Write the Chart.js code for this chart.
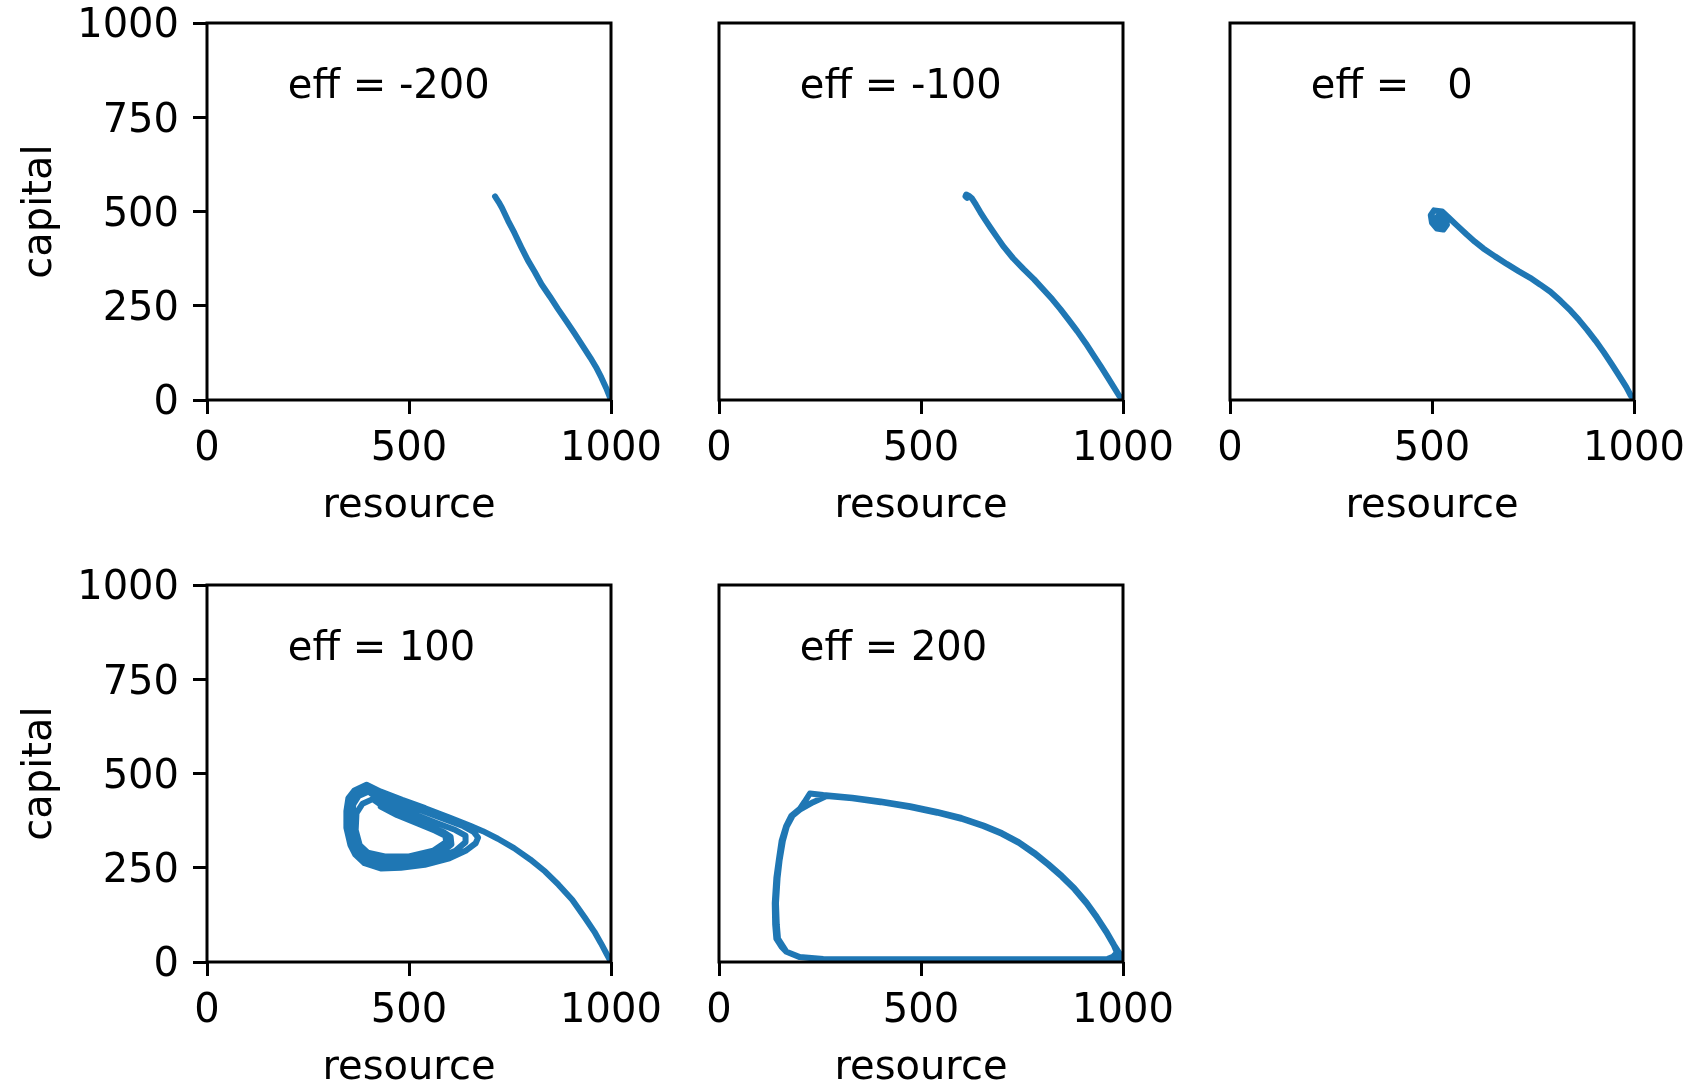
<!DOCTYPE html>
<html><head><meta charset="utf-8">
<script src="https://cdn.jsdelivr.net/npm/chart.js@4"></script>
<style>
html,body{margin:0;padding:0;background:#fff;width:1698px;height:1084px;overflow:hidden;position:relative}
canvas{position:absolute;display:block}
</style></head><body>
<canvas id="c0" width="680" height="530" style="left:0px;top:0px"></canvas>
<canvas id="c1" width="680" height="530" style="left:512px;top:0px"></canvas>
<canvas id="c2" width="680" height="530" style="left:1023px;top:0px"></canvas>
<canvas id="c3" width="680" height="530" style="left:0px;top:562px"></canvas>
<canvas id="c4" width="680" height="530" style="left:512px;top:562px"></canvas>
<script>
// ---- data ----
const effLabels = ['eff = -200', 'eff = -100', 'eff =   0', 'eff = 100', 'eff = 200'];
const xTicks = [0, 500, 1000];
const xTickLabels = ['0', '500', '1000'];
const yTicks = [0, 250, 500, 750, 1000];
const yTickLabels = ['0', '250', '500', '750', '1000'];
const xTitle = 'resource';
const yTitle = 'capital';

const res_m200 = [1000, 988, 976, 963, 949, 929, 909, 889, 869, 849, 828, 811, 794, 778, 761, 745, 730, 722, 716, 713];
const cap_m200 = [0, 32, 60, 87, 112, 145, 178, 210, 241, 274, 307, 340, 371, 405, 443, 476, 510, 525, 535, 540];

const res_m100 = [1000, 990, 976, 961, 945, 928, 908, 887, 866, 845, 825, 804, 780, 754, 728, 705, 688, 672, 659, 647, 636, 626, 618, 612, 610, 614];
const cap_m100 = [0, 12, 36, 62, 89, 117, 150, 182, 212, 241, 267, 292, 320, 347, 376, 406, 432, 457, 478, 498, 518, 535, 542, 545, 540, 536];

const res_0 = [1000, 992, 981, 967, 946, 925, 905, 884, 864, 843, 818, 793, 768, 743, 714, 685, 656, 627, 606, 586, 563, 541, 525, 505, 497, 500, 512, 528, 537, 533, 518, 506, 508, 520, 527, 518, 513];
const cap_0 = [0, 12, 34, 58, 93, 127, 157, 186, 212, 237, 263, 287, 306, 324, 342, 361, 381, 402, 420, 439, 462, 484, 500, 503, 490, 470, 455, 452, 465, 482, 490, 480, 466, 462, 472, 478, 472];

const res_100 = [1000, 990, 975, 959, 935, 904, 870, 837, 800, 760, 720, 683, 650,
  600, 540, 483, 430, 395, 365, 350, 345, 345, 355, 367, 390, 430, 480, 539, 600, 640, 665, 671, 660, 635,
  590, 530, 470, 420, 398, 370, 356, 352, 354, 364, 380, 405, 445, 510, 570, 615, 640, 640, 615,
  570, 510, 455, 415, 400, 375, 362, 360, 362, 372, 390, 420, 470, 530, 580, 605, 603, 585,
  545, 490, 440, 410, 385, 370, 368, 378, 398, 440, 500, 560, 592, 590, 565, 520, 470, 430];
const cap_100 = [0, 20, 50, 80, 118, 165, 205, 240, 272, 302, 327, 347, 362,
  383, 408, 430, 452, 470, 455, 435, 400, 356, 310, 285, 262, 248, 250, 258, 275, 295, 315, 330, 345, 360,
  378, 402, 425, 447, 462, 448, 428, 390, 350, 305, 282, 265, 257, 262, 275, 295, 318, 335, 350,
  368, 393, 417, 440, 452, 440, 418, 380, 340, 302, 283, 270, 266, 272, 290, 312, 332, 345,
  362, 386, 410, 432, 420, 395, 350, 310, 290, 280, 280, 295, 318, 335, 348, 368, 390, 412];

const res_200 = [1000, 990, 978, 958, 935, 910, 880, 849, 815, 780, 742, 700, 655, 600, 540, 473, 400, 330, 258, 225,
  212, 200, 179, 166, 155, 148, 142, 138, 139, 142, 155, 167, 200, 258, 400, 600, 800, 900, 961, 975, 985,
  978, 958, 935, 910, 880, 849, 815, 780, 742, 700, 655, 600, 540, 473, 400, 330, 266,
  233, 200, 182, 168, 158, 150, 145, 141, 143, 146, 167, 200, 258, 400, 600, 800, 960, 990, 1000];
const cap_200 = [6, 25, 45, 82, 120, 157, 195, 228, 260, 290, 318, 342, 362, 382, 398, 413, 426, 436, 443, 447,
  425, 406, 388, 360, 321, 270, 223, 156, 100, 62, 40, 27, 13, 7, 6, 6, 6, 6, 8, 14, 25,
  43, 80, 118, 155, 193, 226, 258, 288, 316, 340, 360, 380, 396, 411, 424, 434, 440,
  424, 404, 388, 360, 321, 270, 223, 156, 100, 62, 27, 13, 8, 7, 7, 7, 8, 10, 20];

const annotX = 200, annotY = 800;

// ---- drawing ----
const FONT = 'DejaVu Sans';
const boxPlugin = {
  id: 'box',
  afterDraw(chart) {
    const a = chart.chartArea, ctx = chart.ctx;
    ctx.save();
    ctx.strokeStyle = '#000';
    ctx.lineWidth = 3;
    ctx.strokeRect(a.left, a.top, a.right - a.left, a.bottom - a.top);
    const o = chart.options.plugins.annot;
    ctx.font = '40px "' + FONT + '"';
    ctx.fillStyle = '#000';
    ctx.textAlign = 'left';
    ctx.textBaseline = 'alphabetic';
    ctx.fillText(o.text, chart.scales.x.getPixelForValue(annotX), chart.scales.y.getPixelForValue(annotY));
    ctx.restore();
  }
};

function makeChart(id, res, cap, label, showY) {
  const pts = res.map((r, i) => ({x: r, y: cap[i]}));
  const tickFont = {family: FONT, size: 40, lineHeight: 1};
  new Chart(document.getElementById(id), {
    type: 'scatter',
    data: {datasets: [{data: pts, showLine: true, borderColor: '#1f77b4', backgroundColor: '#1f77b4',
      borderWidth: 6, pointRadius: 0, pointHoverRadius: 0, tension: 0, borderJoinStyle: 'round', borderCapStyle: 'round'}]},
    options: {
      responsive: false, animation: false, devicePixelRatio: 1, events: [],
      layout: {padding: {top: 23, right: 69, left: 0, bottom: 0}},
      plugins: {legend: {display: false}, tooltip: {enabled: false}, annot: {text: label}},
      scales: {
        x: {
          type: 'linear', min: 0, max: 1000, position: 'bottom',
          afterBuildTicks: s => { s.ticks = xTicks.map(v => ({value: v})); },
          afterFit: s => { s.height = 130; s.paddingLeft = 0; s.paddingRight = 0; },
          ticks: {callback: (v, i) => xTickLabels[i], font: tickFont, color: '#000', padding: 16, maxRotation: 0, autoSkip: false},
          grid: {display: true, drawOnChartArea: false, drawTicks: true, tickLength: 14, color: '#000', lineWidth: 3},
          border: {display: false},
          title: {display: true, text: xTitle, font: {family: FONT, size: 40, lineHeight: 1}, color: '#000', padding: {top: 0, bottom: 3}}
        },
        y: {
          type: 'linear', min: 0, max: 1000, position: 'left',
          afterBuildTicks: s => { s.ticks = yTicks.map(v => ({value: v})); },
          afterFit: s => { s.width = 207; s.paddingTop = 0; s.paddingBottom = 0; },
          ticks: {display: showY, callback: (v, i) => yTickLabels[i], font: tickFont, color: '#000', padding: 14, labelOffset: 4, autoSkip: false},
          grid: {display: showY, drawOnChartArea: false, drawTicks: true, tickLength: 14, color: '#000', lineWidth: 3},
          border: {display: false},
          title: {display: showY, text: yTitle, font: {family: FONT, size: 40, lineHeight: 1}, color: '#000', padding: {top: 21, bottom: 0}}
        }
      }
    },
    plugins: [boxPlugin]
  });
}

makeChart('c0', res_m200, cap_m200, effLabels[0], true);
makeChart('c1', res_m100, cap_m100, effLabels[1], false);
makeChart('c2', res_0, cap_0, effLabels[2], false);
makeChart('c3', res_100, cap_100, effLabels[3], true);
makeChart('c4', res_200, cap_200, effLabels[4], false);
</script>
</body></html>
